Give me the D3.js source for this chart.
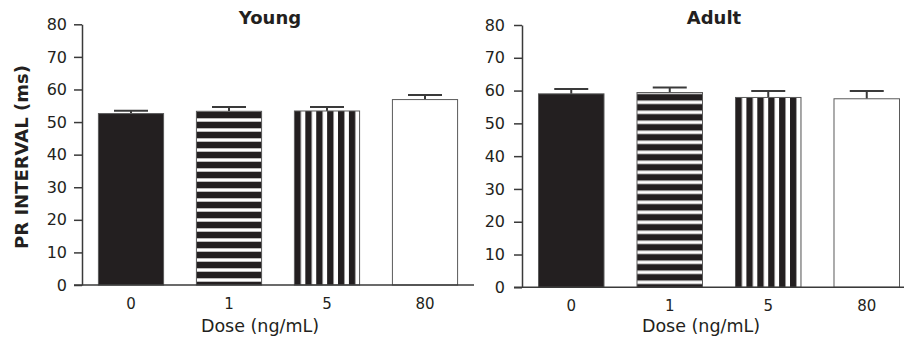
<!DOCTYPE html>
<html>
<head>
<meta charset="utf-8">
<script src="https://cdn.jsdelivr.net/npm/d3@7"></script>
<style>
  body { margin: 0; background: #fff; }
  svg { display: block; font-family: "DejaVu Sans", sans-serif; }
</style>
</head>
<body>
<svg id="chart" width="904" height="341"></svg>
<script>
// data
const doses = ['0', '1', '5', '80'];
const youngMeans = [52.6, 53.3, 53.4, 56.9];
const youngSem = [0.9, 1.3, 1.2, 1.4];
const adultMeans = [59.0, 59.4, 57.9, 57.5];
const adultSem = [1.5, 1.5, 2.0, 2.4];
const fillKinds = ['solid', 'hstripe', 'vstripe', 'open'];
const yTicks = [0, 10, 20, 30, 40, 50, 60, 70, 80];

const ink = '#231f20';
const axisColor = '#3a3a3a';

const svg = d3.select('#chart');
const defs = svg.append('defs');

const panels = [
  { id: 'young', title: 'Young', means: youngMeans, sem: youngSem,
    left: 82, right: 474, top: 24.3, bottom: 285, titleX: 270, labelX: 260, yPad: 7 },
  { id: 'adult', title: 'Adult', means: adultMeans, sem: adultSem,
    left: 522, right: 916, top: 25, bottom: 287.3, titleX: 714, labelX: 701, yPad: 9 },
];

panels.forEach((p) => {
  const x = d3.scaleBand().domain(doses).range([p.left, p.right])
    .paddingInner(0.335).paddingOuter(0.1675);
  const y = d3.scaleLinear().domain([0, 80]).range([p.bottom, p.top]);

  // stripe patterns, lined up with the bars
  const h = defs.append('pattern')
    .attr('id', `hstripe-${p.id}`)
    .attr('patternUnits', 'userSpaceOnUse')
    .attr('x', 0).attr('y', y(0))
    .attr('width', 10).attr('height', 10);
  h.append('rect').attr('width', 10).attr('height', 10).attr('fill', ink);
  h.append('rect').attr('y', 3.3).attr('width', 10).attr('height', 3.4).attr('fill', '#fff');

  const v = defs.append('pattern')
    .attr('id', `vstripe-${p.id}`)
    .attr('patternUnits', 'userSpaceOnUse')
    .attr('x', x('5')).attr('y', 0)
    .attr('width', 10.9).attr('height', 10);
  v.append('rect').attr('width', 10.9).attr('height', 10).attr('fill', ink);
  v.append('rect').attr('x', 6.4).attr('width', 4.5).attr('height', 10).attr('fill', '#fff');

  const fillFor = (k) => {
    if (k === 'solid') return ink;
    if (k === 'open') return '#fff';
    return `url(#${k}-${p.id})`;
  };

  const g = svg.append('g').attr('class', `panel-${p.id}`);

  // error bars (upper only)
  const capW = 34;
  const err = g.selectAll('g.err')
    .data(doses)
    .join('g')
    .attr('class', 'err')
    .attr('stroke', axisColor)
    .attr('stroke-width', 2);
  err.append('line')
    .attr('x1', (d) => x(d) + x.bandwidth() / 2)
    .attr('x2', (d) => x(d) + x.bandwidth() / 2)
    .attr('y1', (d, i) => y(p.means[i]))
    .attr('y2', (d, i) => y(p.means[i] + p.sem[i]));
  err.append('line')
    .attr('x1', (d) => x(d) + x.bandwidth() / 2 - capW / 2)
    .attr('x2', (d) => x(d) + x.bandwidth() / 2 + capW / 2)
    .attr('y1', (d, i) => y(p.means[i] + p.sem[i]))
    .attr('y2', (d, i) => y(p.means[i] + p.sem[i]));

  // bars
  g.selectAll('rect.bar')
    .data(doses)
    .join('rect')
    .attr('class', 'bar')
    .attr('x', (d) => x(d))
    .attr('width', x.bandwidth())
    .attr('y', (d, i) => y(p.means[i]))
    .attr('height', (d, i) => y(0) - y(p.means[i]))
    .attr('fill', (d, i) => fillFor(fillKinds[i]))
    .attr('stroke', '#5a5a5a')
    .attr('stroke-width', 1);

  // y axis
  const yAxis = g.append('g')
    .attr('transform', `translate(${p.left},0)`)
    .call(d3.axisLeft(y).tickValues(yTicks).tickSize(8).tickSizeOuter(0).tickPadding(p.yPad));
  yAxis.selectAll('line, path').attr('stroke', axisColor).attr('stroke-width', 1.5);
  yAxis.selectAll('text').attr('font-size', 16).attr('fill', ink)
    .attr('font-family', '"DejaVu Sans", sans-serif');

  // baseline
  g.append('line')
    .attr('x1', p.left - 8).attr('x2', p.right)
    .attr('y1', y(0)).attr('y2', y(0))
    .attr('stroke', axisColor).attr('stroke-width', 1.5);

  // x labels
  const xAxis = g.append('g')
    .attr('transform', `translate(0,${y(0)})`)
    .call(d3.axisBottom(x).tickSize(0).tickPadding(13));
  xAxis.select('.domain').remove();
  xAxis.selectAll('text').attr('font-size', 15).attr('fill', ink)
    .attr('font-family', '"DejaVu Sans", sans-serif');

  g.append('text')
    .attr('x', p.labelX).attr('y', 332)
    .attr('text-anchor', 'middle')
    .attr('font-size', 17.5).attr('fill', ink)
    .text('Dose (ng/mL)');

  g.append('text')
    .attr('x', p.titleX).attr('y', 24)
    .attr('text-anchor', 'middle')
    .attr('font-size', 18).attr('font-weight', 'bold').attr('fill', ink)
    .text(p.title);
});

// y axis title
svg.append('text')
  .attr('transform', 'translate(28,157) rotate(-90)')
  .attr('text-anchor', 'middle')
  .attr('font-size', 18).attr('font-weight', 'bold').attr('fill', ink)
  .text('PR INTERVAL (ms)');
</script>
</body>
</html>
